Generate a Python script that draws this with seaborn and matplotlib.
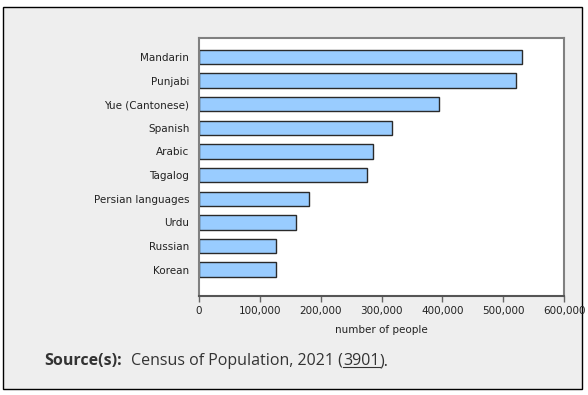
import matplotlib
matplotlib.use('Agg')
import matplotlib.pyplot as plt
import seaborn as sns
from matplotlib.patches import Rectangle
from matplotlib.lines import Line2D
from matplotlib.ticker import FuncFormatter

# languages, top to bottom
languages = ['Mandarin', 'Punjabi', 'Yue (Cantonese)', 'Spanish', 'Arabic',
             'Tagalog', 'Persian languages', 'Urdu', 'Russian', 'Korean']
# number of people
people = [531000, 521000, 394000, 318000, 286000,
          276000, 181000, 159000, 126000, 126000]
x_ticks = [0, 100000, 200000, 300000, 400000, 500000, 600000]

W, H = 588, 395
fig = plt.figure(figsize=(W / 100, H / 100), dpi=100)
fig.patch.set_facecolor('white')

# grey panel with black border behind everything
panel = Rectangle((3 / W, 1 - 389 / H), 579 / W, 382 / H, transform=fig.transFigure,
                  facecolor='#eeeeee', edgecolor='black', linewidth=1, zorder=-1)
fig.patches.append(panel)

ax = fig.add_axes([199 / W, 1 - 296 / H, 365 / W, 258 / H])
ax.set_facecolor('white')

sns.barplot(x=people, y=languages, orient='h', color='#99ccff', saturation=1,
            edgecolor='#2a2a2a', linewidth=1, width=0.61, ax=ax)

ax.set_xlim(0, 600000)
ax.set_ylim(10.12, -0.805)
ax.set_xticks(x_ticks)
ax.xaxis.set_major_formatter(FuncFormatter(lambda v, p: f'{int(v):,}'))
ax.set_xlabel('number of people', fontsize=7.5, color='#222222', labelpad=6)
ax.set_ylabel('')
ax.tick_params(axis='y', length=0, pad=7, labelsize=7.5, labelcolor='#222222')
ax.tick_params(axis='x', length=4, width=1, color='#666666', pad=3.5,
               labelsize=7.5, labelcolor='#222222')
for side in ['left', 'top', 'right']:
    ax.spines[side].set_color('#808080')
    ax.spines[side].set_linewidth(1.5)
ax.spines['bottom'].set_color('#555555')
ax.spines['bottom'].set_linewidth(1.5)

# source line
y_src = 1 - 361 / H
t1 = fig.text(44 / W, y_src, 'Source(s):', fontsize=11.5, fontweight='bold',
              family='Open Sans', color='#333333', va='center', ha='left')
t2 = ax.annotate('Census of Population, 2021 (', xy=(1, 0), xycoords=t1,
                 xytext=(7, 0), textcoords='offset points', va='bottom', ha='left',
                 fontsize=11.5, family='Open Sans', color='#333333', annotation_clip=False)
t3 = ax.annotate('3901', xy=(1, 0), xycoords=t2, va='bottom', ha='left',
                 fontsize=11.5, family='Open Sans', color='#333333', annotation_clip=False)
t4 = ax.annotate(').', xy=(1, 0), xycoords=t3, va='bottom', ha='left',
                 fontsize=11.5, family='Open Sans', color='#333333', annotation_clip=False)

fig.canvas.draw()
bb = t3.get_window_extent()
uy = (bb.y0 + 2.5) / H
fig.lines.append(Line2D([bb.x0 / W, bb.x1 / W], [uy, uy], transform=fig.transFigure,
                        color='#333333', linewidth=0.8))

fig.savefig('out.png', dpi=100)
